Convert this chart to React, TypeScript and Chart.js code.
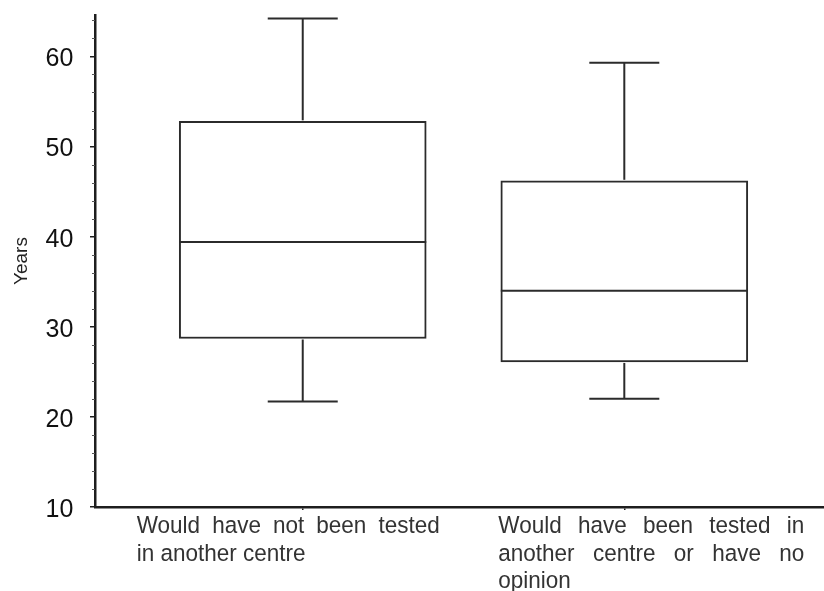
import React, { useEffect, useRef } from "react";
import { Chart, registerables } from "chart.js";

Chart.register(...registerables);

// ---- data ----
const categoryLines = [
  ["Would have not been tested", "in another centre"],
  ["Would have been tested in", "another centre or have no", "opinion"],
];
const justifyLine = [
  [true, false],
  [true, true, false],
];
const whiskerLow = [21.7, 22.0];
const q1 = [28.7, 26.1];
const median = [39.4, 34.0];
const q3 = [52.8, 46.2];
const whiskerHigh = [64.2, 59.3];
const yTicks = [10, 20, 30, 40, 50, 60];
const yMinorTicks = [12, 14, 16, 18, 22, 24, 26, 28, 32, 34, 36, 38, 42, 44, 46, 48, 52, 54, 56, 58, 62, 64];
const yTitle = "Years";

// ---- layout / style ----
const W = 824;
const H = 591;
const LINE = "#2b2b2b";
const AXIS = "#1e1e1e";
const FONT = '"Liberation Sans", Arial, Helvetica, sans-serif';
const LABEL_LEFT = [-166, -126];
const LABEL_WIDTH = [303, 306];
const LABEL_BASE = [26, 53.5, 81];
const CAP_HALF = 35;

const boxPlugin = {
  id: "boxWhiskers",
  afterDatasetsDraw(chart: any) {
    const { ctx } = chart;
    const x = chart.scales.x;
    const y = chart.scales.y;
    const meta = chart.getDatasetMeta(0);
    ctx.save();
    ctx.strokeStyle = LINE;
    ctx.lineWidth = 2;
    ctx.lineCap = "butt";
    meta.data.forEach((bar: any, i: number) => {
      const cx = x.getPixelForValue(i + 1);
      const half = bar.width / 2;
      const seg = (x1: number, y1: number, x2: number, y2: number) => {
        ctx.beginPath();
        ctx.moveTo(x1, y1);
        ctx.lineTo(x2, y2);
        ctx.stroke();
      };
      // median
      seg(cx - half, y.getPixelForValue(median[i]), cx + half, y.getPixelForValue(median[i]));
      // upper whisker
      seg(cx, y.getPixelForValue(q3[i]) - 1, cx, y.getPixelForValue(whiskerHigh[i]));
      seg(cx - CAP_HALF, y.getPixelForValue(whiskerHigh[i]), cx + CAP_HALF, y.getPixelForValue(whiskerHigh[i]));
      // lower whisker
      seg(cx, y.getPixelForValue(q1[i]) + 1, cx, y.getPixelForValue(whiskerLow[i]));
      seg(cx - CAP_HALF, y.getPixelForValue(whiskerLow[i]), cx + CAP_HALF, y.getPixelForValue(whiskerLow[i]));
    });
    ctx.restore();
  },
  afterDraw(chart: any) {
    const { ctx, chartArea } = chart;
    const x = chart.scales.x;
    const y = chart.scales.y;
    ctx.save();
    // minor ticks
    ctx.strokeStyle = "#555";
    ctx.lineWidth = 1;
    yMinorTicks.forEach((v) => {
      const py = Math.round(y.getPixelForValue(v)) + 0.5;
      ctx.beginPath();
      ctx.moveTo(chartArea.left - 3, py);
      ctx.lineTo(chartArea.left, py);
      ctx.stroke();
    });
    // category labels (justified)
    ctx.fillStyle = "#333";
    ctx.font = `22.5px ${FONT}`;
    ctx.textAlign = "left";
    ctx.textBaseline = "alphabetic";
    const drawWord = (t: string, px: number, py: number) => {
      ctx.save();
      ctx.translate(px, py);
      ctx.scale(1, 1.1);
      ctx.fillText(t, 0, 0);
      ctx.restore();
    };
    categoryLines.forEach((lines, i) => {
      const left = x.getPixelForValue(i + 1) + LABEL_LEFT[i];
      lines.forEach((line, j) => {
        const py = chartArea.bottom + LABEL_BASE[j];
        if (justifyLine[i][j]) {
          const words = line.split(" ");
          const widths = words.map((w) => ctx.measureText(w).width);
          const sum = widths.reduce((a, b) => a + b, 0);
          const gap = (LABEL_WIDTH[i] - sum) / (words.length - 1);
          let px = left;
          words.forEach((w, k) => {
            drawWord(w, px, py);
            px += widths[k] + gap;
          });
        } else {
          drawWord(line, left, py);
        }
      });
    });
    ctx.restore();
  },
};

export default function App() {
  const ref = useRef<HTMLCanvasElement | null>(null);
  useEffect(() => {
    if (!ref.current) return;
    const chart = new Chart(ref.current, {
      type: "bar",
      data: {
        datasets: [
          {
            data: q1.map((v, i) => ({ x: i + 1, y: [v, q3[i]] })) as any,
            backgroundColor: "#ffffff",
            borderColor: LINE,
            borderWidth: 2,
            borderSkipped: false,
            barThickness: 247,
          },
        ],
      },
      plugins: [boxPlugin],
      options: {
        responsive: false,
        animation: false,
        devicePixelRatio: 1,
        layout: { padding: { top: 15, left: 0, right: 0, bottom: 0 } },
        plugins: { legend: { display: false }, tooltip: { enabled: false } },
        scales: {
          x: {
            type: "linear",
            min: 0.354,
            max: 2.621,
            bounds: "data",
            offset: false,
            afterBuildTicks: (axis: any) => {
              axis.ticks = [{ value: 1 }, { value: 2 }];
            },
            afterFit: (axis: any) => {
              axis.height = 84;
              axis.paddingLeft = 0;
              axis.paddingRight = 0;
            },
            ticks: { display: false },
            grid: { offset: false, drawOnChartArea: false, drawTicks: true, tickLength: 3, color: AXIS, lineWidth: 1.5 },
            border: { display: true, color: AXIS, width: 2.5 },
          },
          y: {
            type: "linear",
            min: 10,
            max: 64.6,
            bounds: "data",
            afterBuildTicks: (axis: any) => {
              axis.ticks = yTicks.map((v) => ({ value: v }));
            },
            afterFit: (axis: any) => {
              axis.width = 95;
              axis.paddingTop = 0;
              axis.paddingBottom = 0;
            },
            ticks: {
              color: "#111",
              font: { family: FONT, size: 25 },
              padding: 16.7,
              labelOffset: 3,
            },
            grid: { drawOnChartArea: false, drawTicks: true, tickLength: 5, color: AXIS, lineWidth: 1.5 },
            border: { display: true, color: AXIS, width: 2.5 },
            title: {
              display: true,
              text: yTitle,
              color: "#222",
              font: { family: FONT, size: 19, lineHeight: 1.2 },
              padding: { top: 10, bottom: 0 },
            },
          },
        },
      },
    });
    return () => chart.destroy();
  }, []);
  return (
    <div style={{ position: "absolute", left: 0, top: 0, width: W, height: H, background: "#fff" }}>
      <canvas ref={ref} width={W} height={H} style={{ width: W, height: H, display: "block" }} />
    </div>
  );
}
